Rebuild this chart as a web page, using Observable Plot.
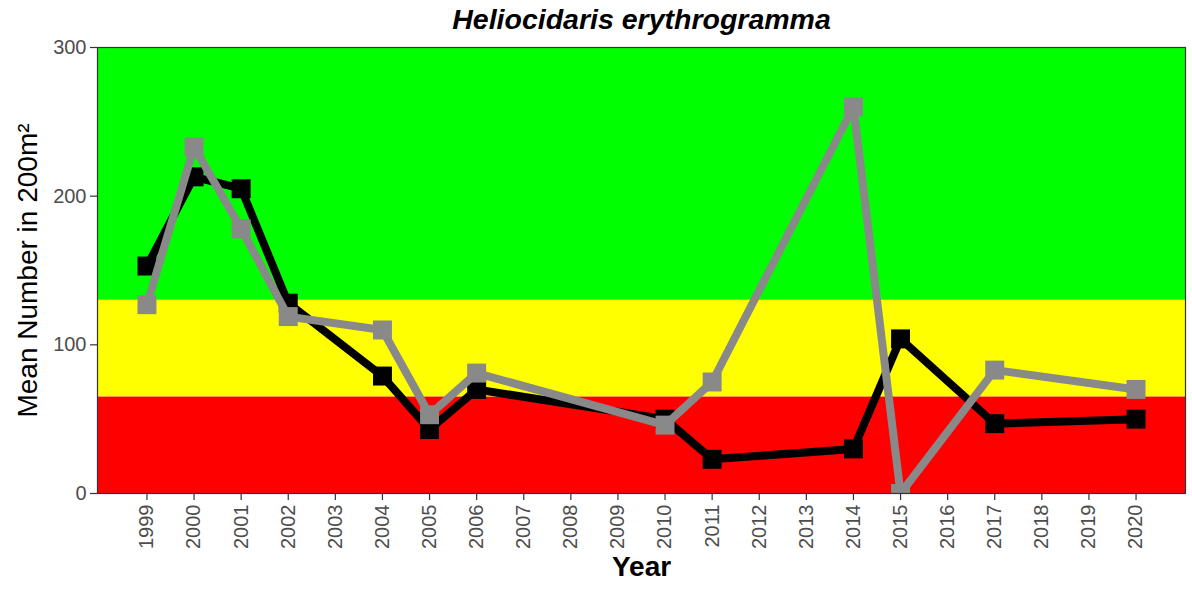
<!DOCTYPE html>
<html>
<head>
<meta charset="utf-8">
<script src="https://cdn.jsdelivr.net/npm/d3@7"></script>
<script src="https://cdn.jsdelivr.net/npm/@observablehq/plot@0.6"></script>
<style>
  html, body { margin: 0; padding: 0; background: #ffffff; }
  #chart { width: 1192px; height: 590px; }
</style>
</head>
<body>
<div id="chart"></div>
<script>
const title = "Heliocidaris erythrogramma";
const yTitle = "Mean Number in 200m²";
const xTitle = "Year";

const years = [1999, 2000, 2001, 2002, 2004, 2005, 2006, 2010, 2011, 2014, 2015, 2017, 2020];
const blackValues = [153, 213, 205, 128, 79, 43, 70, 50, 23, 30, 104, 47, 50];
const greyValues  = [127, 233, 178, 119, 110, 53, 81, 46, 75, 260, 0, 83, 70];

const xTicks = [1999, 2000, 2001, 2002, 2003, 2004, 2005, 2006, 2007, 2008, 2009, 2010,
                2011, 2012, 2013, 2014, 2015, 2016, 2017, 2018, 2019, 2020];
const yTicks = [0, 100, 200, 300];

const bandLow  = [0, 65, 130];
const bandHigh = [65, 130, 300];
const bandColors = ["#ff0000", "#ffff00", "#00ff00"];

const bands = bandLow.map((lo, i) => ({lo, hi: bandHigh[i], color: bandColors[i]}));
const black = years.map((year, i) => ({year, value: blackValues[i]}));
const grey = years.map((year, i) => ({year, value: greyValues[i]}));

const font = "'Liberation Sans', Arial, Helvetica, sans-serif";

const chart = Plot.plot({
  width: 1192,
  height: 590,
  marginTop: 47,
  marginBottom: 97,
  marginLeft: 97,
  marginRight: 7,
  style: {fontFamily: font, background: "#ffffff", overflow: "visible"},
  x: {domain: [1997.95, 2021.05]},
  y: {domain: [0, 300]},
  marks: [
    Plot.rect(bands, {y1: "lo", y2: "hi", fill: d => d.color}),
    Plot.line(black, {x: "year", y: "value", stroke: "#000000", strokeWidth: 8, strokeLinejoin: "round", clip: true}),
    Plot.dot(black, {x: "year", y: "value", symbol: "square", r: 10.7, fill: "#000000", stroke: null, clip: true}),
    Plot.line(grey, {x: "year", y: "value", stroke: "#898989", strokeWidth: 8, strokeLinejoin: "round", clip: true}),
    Plot.dot(grey, {x: "year", y: "value", symbol: "square", r: 10.7, fill: "#898989", stroke: null, clip: true}),
    Plot.frame({stroke: "#333333", strokeWidth: 1.2}),
    Plot.axisY({ticks: yTicks, tickSize: 7, tickPadding: 4, fontSize: 20, color: "#4d4d4d", stroke: "#333333", strokeWidth: 1.2, label: null}),
    Plot.axisX({ticks: xTicks, tickFormat: "d", tickRotate: -90, tickSize: 7, tickPadding: 4, fontSize: 20, color: "#4d4d4d", stroke: "#333333", strokeWidth: 1.2, label: null}),
    Plot.text([title], {text: d => d, frameAnchor: "top", dy: -28, lineAnchor: "middle", textAnchor: "middle", fontSize: 28.5, fontWeight: "bold", fontStyle: "italic", fill: "#000000"}),
    Plot.text([xTitle], {text: d => d, frameAnchor: "bottom", dy: 74, lineAnchor: "middle", textAnchor: "middle", fontSize: 28, fontWeight: "bold", fill: "#000000"}),
    Plot.text([yTitle], {text: d => d, frameAnchor: "left", dx: -69, rotate: -90, lineAnchor: "middle", textAnchor: "middle", fontSize: 28, fill: "#000000"})
  ]
});

document.getElementById("chart").appendChild(chart);
</script>
</body>
</html>
